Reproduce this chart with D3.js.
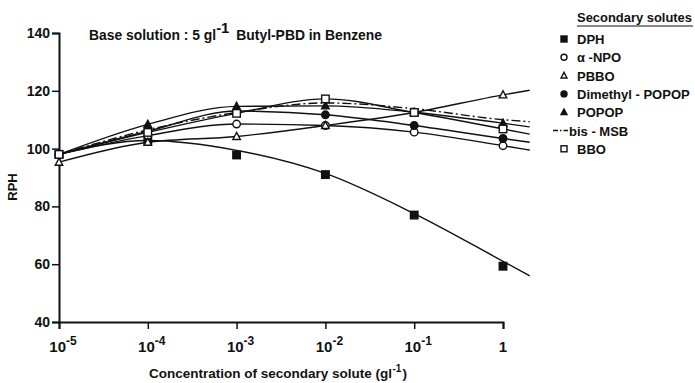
<!DOCTYPE html>
<html>
<head>
<meta charset="utf-8">
<script src="https://cdn.jsdelivr.net/npm/d3@7"></script>
<style>
  html, body { margin: 0; padding: 0; background: #fff; }
  svg { display: block; }
  text { font-family: "Liberation Sans", Arial, sans-serif; fill: #111; font-weight: bold; }
</style>
</head>
<body>
<svg id="chart" width="695" height="383"></svg>
<script>
// Concentrations at which RPH was measured (g/l)
const conc = [1e-5, 1e-4, 1e-3, 1e-2, 1e-1, 1];
// Concentrations along which the fitted curves are drawn (extended past 1 g/l)
const fitConc = [1e-5, 1e-4, 1e-3, 1e-2, 1e-1, 1, 2];

// Measured relative pulse heights
const dph        = [98, 102.8, 97.8, 91.0, 77.0, 59.3];
const aNpo       = [98, 104.5, 108.5, 108.0, 105.7, 101.0];
const pbbo       = [95.3, 102.2, 104.2, 108.0, 112.5, 118.6];
const dimethyl   = [98, 106.0, 113.0, 111.7, 108.0, 103.5];
const popop      = [98, 108.4, 114.6, 114.8, 112.6, 108.8];
const bisMsb     = [98, 106.5, 112.5, 115.8, 113.8, 110.0];
const bbo        = [98, 105.6, 112.2, 117.2, 112.5, 106.8];

// Fitted curve values at fitConc
const dphFit      = [98, 102.8, 99.4, 91.4, 77.5, 61.0, 56.0];
const aNpoFit     = [98, 104.5, 108.5, 108.0, 105.7, 101.0, 99.5];
const pbboFit     = [95.3, 102.2, 104.2, 108.0, 112.5, 118.6, 120.2];
const dimethylFit = [98, 106.0, 113.0, 111.7, 108.0, 103.5, 102.2];
const popopFit    = [98, 108.4, 114.6, 114.8, 112.6, 108.8, 107.5];
const bisMsbFit   = [98, 106.5, 112.5, 115.8, 113.8, 110.0, 109.3];
const bboFit      = [98, 105.6, 112.2, 117.2, 112.5, 106.8, 105.0];

const seriesNames = ["DPH", "\u03b1 -NPO", "PBBO", "Dimethyl - POPOP", "POPOP", "bis - MSB", "BBO"];
const seriesMarkers = ["square-filled", "circle-open", "triangle-open", "circle-filled", "triangle-filled", "none", "square-open"];
const seriesValues = [dph, aNpo, pbbo, dimethyl, popop, bisMsb, bbo];
const seriesFits = [dphFit, aNpoFit, pbboFit, dimethylFit, popopFit, bisMsbFit, bboFit];

const yTicks = [40, 60, 80, 100, 120, 140];
const xTickExp = [-5, -4, -3, -2, -1, 0];

const svg = d3.select("#chart");
const x = d3.scaleLog().domain([1e-5, 1]).range([59, 503]);
const y = d3.scaleLinear().domain([40, 140]).range([322, 33]);

// Axes
const yAxis = d3.axisLeft(y).tickValues(yTicks).tickSize(7).tickPadding(3);
const gy = svg.append("g").attr("transform", "translate(59,0)").call(yAxis);
gy.select(".domain").attr("stroke", "#111").attr("stroke-width", 2);
gy.selectAll(".tick line").attr("stroke", "#111").attr("stroke-width", 1.5);
gy.selectAll(".tick text").style("font-size", "14px").style("font-family", "\"Liberation Sans\", sans-serif").attr("x", -9);

const xAxis = d3.axisBottom(x).tickValues(xTickExp.map(e => Math.pow(10, e))).tickSize(7).tickFormat("");
const gx = svg.append("g").attr("transform", "translate(0,322)").call(xAxis);
gx.select(".domain").attr("stroke", "#111").attr("stroke-width", 2);
gx.selectAll(".tick line").attr("stroke", "#111").attr("stroke-width", 1.5);

// Power-of-ten tick labels
xTickExp.forEach(e => {
  const t = svg.append("text")
    .attr("x", x(Math.pow(10, e)) + (e === 0 ? 0 : 4))
    .attr("y", 352)
    .attr("text-anchor", "middle")
    .style("font-size", "15px");
  if (e === 0) {
    t.text("1");
  } else {
    t.append("tspan").text("10");
    t.append("tspan").attr("dy", -7).style("font-size", "12px").text(String(e));
  }
});

// X axis title: main text, then the unit exponent and closing bracket as separate pieces
const xMain = svg.append("text").attr("x", 149).attr("y", 378)
  .style("font-size", "13.5px").text("Concentration of secondary solute (gl");
const xEnd = 149 + xMain.node().getComputedTextLength();
const xSup = svg.append("text").attr("x", xEnd + 0.5).attr("y", 372)
  .style("font-size", "10px").text("-1");
svg.append("text").attr("x", xEnd + 1.5 + xSup.node().getComputedTextLength()).attr("y", 378)
  .style("font-size", "13.5px").text(")");

svg.append("text").attr("transform", "translate(17,187) rotate(-90)")
  .attr("text-anchor", "middle").style("font-size", "13px").text("RPH");

// Chart title
const tt = svg.append("text").attr("x", 89).attr("y", 40)
  .attr("textLength", 293).attr("lengthAdjust", "spacingAndGlyphs").style("font-size", "14px");
tt.append("tspan").text("Base solution : 5 gl");
tt.append("tspan").attr("dy", -7).style("font-size", "15px").text("-1");
tt.append("tspan").attr("dy", 7).text("\u2002Butyl-PBD in Benzene");

// Fitted curves
const line = d3.line()
  .x((d, i) => x(fitConc[i]))
  .y(d => y(d))
  .curve(d3.curveMonotoneX);

seriesFits.forEach((fit, k) => {
  svg.append("path")
    .datum(fit)
    .attr("d", line)
    .attr("fill", "none")
    .attr("stroke", "#111")
    .attr("stroke-width", 1.4)
    .attr("stroke-dasharray", seriesMarkers[k] === "none" ? "9,3,2,3" : null);
});

// Marker drawing
function marker(g, type, cx, cy, s) {
  const filled = type.endsWith("filled");
  const fill = filled ? "#111" : "#fff";
  if (type.startsWith("square")) {
    g.append("rect").attr("x", cx - s / 2).attr("y", cy - s / 2).attr("width", s).attr("height", s)
      .attr("fill", fill).attr("stroke", "#111").attr("stroke-width", 1.4);
  } else if (type.startsWith("circle")) {
    g.append("circle").attr("cx", cx).attr("cy", cy).attr("r", s / 2)
      .attr("fill", fill).attr("stroke", "#111").attr("stroke-width", 1.4);
  } else if (type.startsWith("triangle")) {
    const h = s * 0.9;
    g.append("path").attr("d", `M${cx},${cy - h * 0.6}L${cx + s / 2},${cy + h * 0.45}L${cx - s / 2},${cy + h * 0.45}Z`)
      .attr("fill", fill).attr("stroke", "#111").attr("stroke-width", 1.4);
  }
}

const markers = svg.append("g");
seriesValues.forEach((vals, k) => {
  const type = seriesMarkers[k];
  if (type === "none") return;
  vals.forEach((v, i) => marker(markers, type, x(conc[i]), y(v), 7.5));
});

// Legend
const lg = svg.append("g");
lg.append("text").attr("x", 577).attr("y", 22)
  .attr("textLength", 115).attr("lengthAdjust", "spacingAndGlyphs").style("font-size", "13px").text("Secondary solutes");
lg.append("line").attr("x1", 577).attr("x2", 693).attr("y1", 26).attr("y2", 26).attr("stroke", "#111").attr("stroke-width", 1);
seriesNames.forEach((name, k) => {
  const yy = 39 + k * 18.3;
  const type = seriesMarkers[k];
  if (type === "none") {
    lg.append("line").attr("x1", 553).attr("x2", 568).attr("y1", yy).attr("y2", yy)
      .attr("stroke", "#111").attr("stroke-width", 1.3).attr("stroke-dasharray", "5,2,1.5,2");
    lg.append("text").attr("x", 569).attr("y", yy + 5).style("font-size", "13px").text(name);
  } else {
    marker(lg, type, 564, yy, 6);
    lg.append("text").attr("x", 577).attr("y", yy + 5).style("font-size", "13px").text(name);
  }
});
</script>
</body>
</html>
